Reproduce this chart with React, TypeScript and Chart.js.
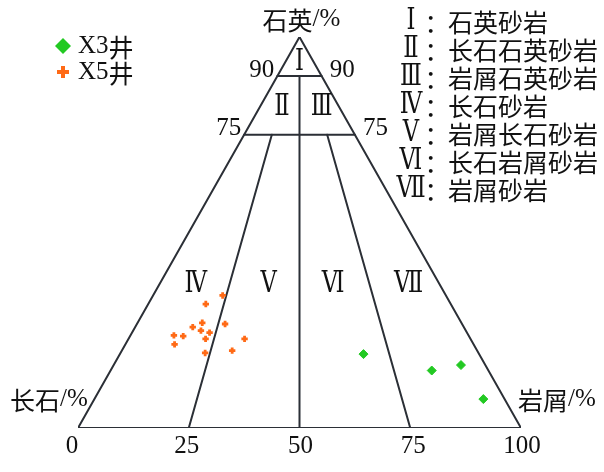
import React, { useEffect, useRef } from "react";
import { Chart, registerables } from "chart.js";

Chart.register(...registerables);

// ---- data ----
// X3井 composition (%): quartz, feldspar, lithic
const x3Quartz = [18.9, 14.7, 16.1, 7.4];
const x3Feldspar = [26.1, 12.8, 5.5, 4.8];
const x3Lithic = [55.0, 72.5, 78.4, 87.8];

// X5井 composition (%)
const x5Quartz = [33.9, 31.7, 26.9, 25.8, 24.9, 24.4, 26.6, 23.7, 23.5, 22.8, 22.8, 21.4, 19.2, 19.8];
const x5Feldspar = [50.4, 55.3, 58.5, 61.2, 59.8, 58.1, 53.5, 66.5, 64.5, 59.8, 51.0, 67.5, 61.7, 55.3];
const x5Lithic = [15.7, 13.0, 14.6, 13.0, 15.3, 17.5, 19.9, 9.8, 12.0, 17.4, 26.2, 11.1, 19.1, 24.9];

const seriesNames = ["X3井", "X5井"];
const vertexNames = ["石英/%", "长石/%", "岩屑/%"];
const baseTicks = [0, 25, 50, 75, 100];
const quartzTicks = [90, 75];
const fieldNumerals = ["Ⅰ", "Ⅱ", "Ⅲ", "Ⅳ", "Ⅴ", "Ⅵ", "Ⅶ"];
const fieldNames = ["石英砂岩", "长石石英砂岩", "岩屑石英砂岩", "长石砂岩", "岩屑长石砂岩", "长石岩屑砂岩", "岩屑砂岩"];

// classification boundaries as [Q, F, L] end points
const boundaryStarts = [
  [100, 0, 0], [0, 100, 0], [0, 0, 100],
  [90, 10, 0], [75, 25, 0],
  [90, 5, 5], [75, 18.75, 6.25], [75, 6.25, 18.75],
];
const boundaryEnds = [
  [0, 100, 0], [0, 0, 100], [100, 0, 0],
  [90, 0, 10], [75, 0, 25],
  [0, 50, 50], [0, 75, 25], [0, 25, 75],
];

// ---- styles ----
const LINE = "#2b2f36";
const GREEN = "#22c922";
const ORANGE = "#ff6a16";
const TEXT = "#111111";
const LATIN = '25px "Liberation Serif", serif';
const CJK = '25px "Noto Sans CJK SC", sans-serif';
const NUMF = '29px "DejaVu Serif", "Liberation Serif", "Noto Sans CJK SC", serif';

function toXY(q: number, f: number, l: number) {
  const s = q + f + l;
  return { x: ((l + q / 2) / s) * 100, y: (q / s) * 100 };
}

function isCJK(ch: string) {
  const c = ch.charCodeAt(0);
  return c >= 0x2e80;
}

function runs(text: string) {
  const out: { t: string; cjk: boolean }[] = [];
  for (const ch of text) {
    const c = isCJK(ch);
    if (out.length && out[out.length - 1].cjk === c) out[out.length - 1].t += ch;
    else out.push({ t: ch, cjk: c });
  }
  return out;
}

function drawMixed(ctx: CanvasRenderingContext2D, text: string, x: number, y: number, align: "left" | "center" | "right") {
  const rs = runs(text);
  const widths = rs.map((r) => {
    ctx.font = r.cjk ? CJK : LATIN;
    return ctx.measureText(r.t).width;
  });
  const total = widths.reduce((a, b) => a + b, 0);
  let cx = align === "left" ? x : align === "center" ? x - total / 2 : x - total;
  ctx.textAlign = "left";
  rs.forEach((r, i) => {
    ctx.font = r.cjk ? CJK : LATIN;
    ctx.fillText(r.t, cx, r.cjk ? y + 1 : y);
    cx += widths[i];
  });
}

function drawNumeral(ctx: CanvasRenderingContext2D, n: string, x: number, y: number) {
  ctx.save();
  ctx.font = NUMF;
  ctx.textAlign = "center";
  ctx.translate(x, y);
  ctx.scale(0.78, 1);
  ctx.fillText(n, 0, 0);
  ctx.restore();
}

function drawDiamond(ctx: CanvasRenderingContext2D, x: number, y: number, r: number, c: string) {
  ctx.save();
  ctx.fillStyle = c;
  ctx.beginPath();
  ctx.moveTo(x - r, y);
  ctx.lineTo(x, y - r);
  ctx.lineTo(x + r, y);
  ctx.lineTo(x, y + r);
  ctx.closePath();
  ctx.fill();
  ctx.restore();
}

function drawPlus(ctx: CanvasRenderingContext2D, x: number, y: number, r: number, w: number, c: string) {
  ctx.save();
  ctx.fillStyle = c;
  ctx.fillRect(x - r, y - w / 2, 2 * r, w);
  ctx.fillRect(x - w / 2, y - r, w, 2 * r);
  ctx.restore();
}

const textPlugin = {
  id: "ternaryText",
  afterDraw(chart: any) {
    const ctx: CanvasRenderingContext2D = chart.ctx;
    const xs = chart.scales.x;
    const ys = chart.scales.y;
    const px = (q: number, f: number, l: number) => {
      const p = toXY(q, f, l);
      return { x: xs.getPixelForValue(p.x), y: ys.getPixelForValue(p.y) };
    };
    ctx.save();
    ctx.fillStyle = TEXT;
    ctx.textBaseline = "middle";

    // vertex labels
    const top = px(100, 0, 0);
    drawMixed(ctx, vertexNames[0], top.x + 2, top.y - 18, "center");
    const left = px(0, 100, 0);
    drawMixed(ctx, vertexNames[1], left.x - 68, left.y - 29, "left");
    const right = px(0, 0, 100);
    drawMixed(ctx, vertexNames[2], right.x - 3, right.y - 29, "left");

    // base ticks
    const nudge = [-6, -2, 1, 3, 1];
    ctx.font = LATIN;
    ctx.textAlign = "center";
    baseTicks.forEach((v, i) => {
      const x = xs.getPixelForValue(v) + nudge[i];
      ctx.fillText(String(v), x, ys.getPixelForValue(0) + 18);
    });

    // quartz ticks
    quartzTicks.forEach((q) => {
      const a = px(q, 100 - q, 0);
      const b = px(q, 0, 100 - q);
      ctx.textAlign = "right";
      ctx.fillText(String(q), a.x - 3, a.y - 6);
      ctx.textAlign = "left";
      ctx.fillText(String(q), b.x + 8, b.y - 6);
    });

    // field numerals inside triangle
    const fieldPos = [
      [93.6, 0.5], [82.1, 0.28], [82.1, 0.78],
      [36.8, 0.13], [36.8, 0.39], [36.8, 0.62], [36.8, 0.89],
    ];
    fieldNumerals.forEach((n, i) => {
      const [q, r] = fieldPos[i];
      const p = px(q, (100 - q) * (1 - r), (100 - q) * r);
      drawNumeral(ctx, n, p.x, p.y);
    });

    // right key
    fieldNumerals.forEach((n, i) => {
      const y = 21 + i * 28;
      drawNumeral(ctx, n, 411, y);
      ctx.font = CJK;
      ctx.textAlign = "center";
      ctx.fillText("：", 437, y + 1);
      ctx.textAlign = "left";
      ctx.fillText(fieldNames[i], 448, y + 1);
    });

    // series legend
    drawDiamond(ctx, 63, 46, 8, GREEN);
    drawPlus(ctx, 63, 72, 6, 4, ORANGE);
    ctx.fillStyle = TEXT;
    drawMixed(ctx, seriesNames[0], 78, 46, "left");
    drawMixed(ctx, seriesNames[1], 78, 72, "left");
    ctx.restore();
  },
};

export default function App() {
  const ref = useRef<HTMLCanvasElement | null>(null);
  useEffect(() => {
    if (!ref.current) return;
    const lineSets = boundaryStarts.map((s, i) => {
      const e = boundaryEnds[i];
      return {
        type: "line" as const,
        data: [toXY(s[0], s[1], s[2]), toXY(e[0], e[1], e[2])],
        borderColor: LINE,
        borderWidth: 2,
        pointRadius: 0,
        showLine: true,
        fill: false,
        tension: 0,
        order: 2,
      };
    });
    const x3 = x3Quartz.map((q, i) => toXY(q, x3Feldspar[i], x3Lithic[i]));
    const x5 = x5Quartz.map((q, i) => toXY(q, x5Feldspar[i], x5Lithic[i]));
    const chart = new Chart(ref.current, {
      type: "scatter",
      data: {
        datasets: [
          ...lineSets,
          {
            label: seriesNames[0],
            data: x3,
            pointStyle: "rectRot",
            pointRadius: 4.5,
            backgroundColor: GREEN,
            borderColor: GREEN,
            borderWidth: 1,
            order: 1,
          },
          {
            label: seriesNames[1],
            data: x5,
            pointStyle: "cross",
            pointRadius: 3.2,
            backgroundColor: ORANGE,
            borderColor: ORANGE,
            borderWidth: 2.8,
            order: 1,
          },
        ] as any,
      },
      options: {
        responsive: false,
        animation: false,
        devicePixelRatio: 1,
        layout: { padding: { left: 78, right: 83, top: 37, bottom: 44 } },
        scales: {
          x: { type: "linear", min: 0, max: 100, display: false },
          y: { type: "linear", min: 0, max: 100, display: false },
        },
        plugins: { legend: { display: false }, tooltip: { enabled: false } },
        elements: { line: { borderCapStyle: "round" } },
      } as any,
      plugins: [textPlugin],
    });
    return () => chart.destroy();
  }, []);
  return (
    <div style={{ position: "absolute", left: 0, top: 0, width: 604, height: 472, background: "#fff" }}>
      <canvas ref={ref} width={604} height={472} />
    </div>
  );
}
